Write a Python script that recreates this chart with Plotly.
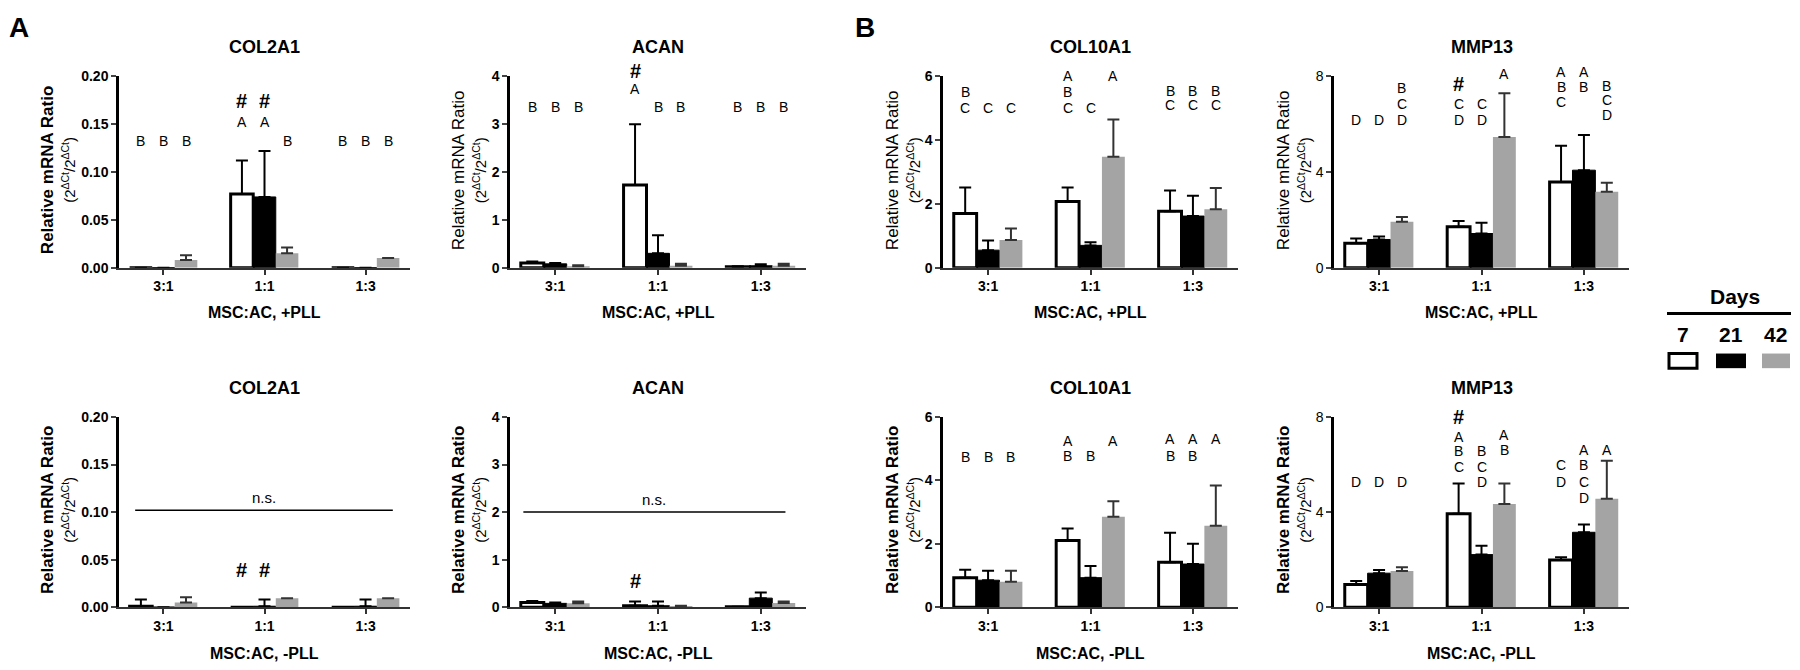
import plotly.graph_objects as go

categories = ["3:1", "1:1", "1:3"]
days = ["7", "21", "42"]

# ---- data: mean per day (rows = day 7, 21, 42; cols = 3:1, 1:1, 1:3), SD upward ----
col2a1_pos_mean = [[0.0, 0.077, 0.0], [0.0, 0.074, 0.0], [0.008, 0.015, 0.010]]
col2a1_pos_sd = [[0, 0.035, 0], [0, 0.048, 0], [0.005, 0.006, 0]]

acan_pos_mean = [[0.10, 1.73, 0.02], [0.08, 0.30, 0.04], [0.03, 0.04, 0.04]]
acan_pos_sd = [[0.03, 1.27, 0.01], [0.02, 0.38, 0.03], [0.02, 0.04, 0.04]]

col10a1_pos_mean = [[1.70, 2.08, 1.77], [0.55, 0.70, 1.62], [0.87, 3.48, 1.83]]
col10a1_pos_sd = [[0.82, 0.44, 0.65], [0.30, 0.10, 0.64], [0.36, 1.17, 0.67]]

mmp13_pos_mean = [[1.02, 1.71, 3.59], [1.18, 1.43, 4.08], [1.92, 5.47, 3.18]]
mmp13_pos_sd = [[0.20, 0.24, 1.51], [0.12, 0.45, 1.47], [0.20, 1.83, 0.37]]

col2a1_neg_mean = [[0.001, 0.0, 0.0], [0.0, 0.001, 0.001], [0.005, 0.0095, 0.0095]]
col2a1_neg_sd = [[0.007, 0, 0], [0, 0.007, 0.007], [0.0055, 0, 0]]

acan_neg_mean = [[0.10, 0.03, 0.01], [0.08, 0.03, 0.19], [0.08, 0.02, 0.09]]
acan_neg_sd = [[0.03, 0.09, 0], [0.02, 0.09, 0.12], [0.04, 0.01, 0.03]]

col10a1_neg_mean = [[0.93, 2.10, 1.42], [0.85, 0.93, 1.36], [0.80, 2.85, 2.57]]
col10a1_neg_sd = [[0.25, 0.38, 0.93], [0.30, 0.37, 0.64], [0.35, 0.49, 1.27]]

mmp13_neg_mean = [[0.95, 3.93, 1.98], [1.43, 2.21, 3.15], [1.52, 4.34, 4.56]]
mmp13_neg_sd = [[0.15, 1.27, 0.12], [0.13, 0.37, 0.33], [0.16, 0.86, 1.60]]

# significance letters: (category index, day index, label, y value)
col2a1_pos_letters = [(0, 0, "B", 0.132), (0, 1, "B", 0.132), (0, 2, "B", 0.132),
                      (1, 0, "A", 0.152), (1, 1, "A", 0.152), (1, 0, "#", 0.174), (1, 1, "#", 0.174),
                      (1, 2, "B", 0.132), (2, 0, "B", 0.132), (2, 1, "B", 0.132), (2, 2, "B", 0.132)]
acan_pos_letters = [(0, 0, "B", 3.36), (0, 1, "B", 3.36), (0, 2, "B", 3.36),
                    (1, 0, "A", 3.73), (1, 0, "#", 4.12), (1, 1, "B", 3.36), (1, 2, "B", 3.36),
                    (2, 0, "B", 3.36), (2, 1, "B", 3.36), (2, 2, "B", 3.36)]
col10a1_pos_letters = [(0, 0, "B", 5.5), (0, 0, "C", 5.02), (0, 1, "C", 5.02), (0, 2, "C", 5.02),
                       (1, 0, "A", 6.0), (1, 0, "B", 5.5), (1, 0, "C", 5.02), (1, 1, "C", 5.02), (1, 2, "A", 6.0),
                       (2, 0, "B", 5.55), (2, 0, "C", 5.1), (2, 1, "B", 5.55), (2, 1, "C", 5.1),
                       (2, 2, "B", 5.55), (2, 2, "C", 5.1)]
mmp13_pos_letters = [(0, 0, "D", 6.2), (0, 1, "D", 6.2), (0, 2, "B", 7.5), (0, 2, "C", 6.85), (0, 2, "D", 6.2),
                     (1, 0, "#", 7.67), (1, 0, "C", 6.85), (1, 0, "D", 6.2), (1, 1, "C", 6.85), (1, 1, "D", 6.2),
                     (1, 2, "A", 8.1),
                     (2, 0, "A", 8.2), (2, 0, "B", 7.55), (2, 0, "C", 6.95), (2, 1, "A", 8.2), (2, 1, "B", 7.55),
                     (2, 2, "B", 7.6), (2, 2, "C", 7.0), (2, 2, "D", 6.37)]
col2a1_neg_letters = [(1, 0, "#", 0.039), (1, 1, "#", 0.039)]
acan_neg_letters = [(1, 0, "#", 0.55)]
col10a1_neg_letters = [(0, 0, "B", 4.73), (0, 1, "B", 4.73), (0, 2, "B", 4.73),
                       (1, 0, "A", 5.23), (1, 0, "B", 4.77), (1, 1, "B", 4.77), (1, 2, "A", 5.23),
                       (2, 0, "A", 5.3), (2, 0, "B", 4.77), (2, 1, "A", 5.3), (2, 1, "B", 4.77), (2, 2, "A", 5.3)]
mmp13_neg_letters = [(0, 0, "D", 5.25), (0, 1, "D", 5.25), (0, 2, "D", 5.25),
                     (1, 0, "#", 8.0), (1, 0, "A", 7.17), (1, 0, "B", 6.56), (1, 0, "C", 5.9),
                     (1, 1, "B", 6.56), (1, 1, "C", 5.9), (1, 1, "D", 5.25),
                     (1, 2, "A", 7.25), (1, 2, "B", 6.62),
                     (2, 0, "C", 5.98), (2, 0, "D", 5.25),
                     (2, 1, "A", 6.62), (2, 1, "B", 5.98), (2, 1, "C", 5.25), (2, 1, "D", 4.6),
                     (2, 2, "A", 6.62)]

# n.s. bars: (x0, x1, y) in data units
col2a1_neg_ns = (-0.28, 2.27, 0.102)
acan_neg_ns = (-0.31, 2.24, 2.0)

titles = ["COL2A1", "ACAN", "COL10A1", "MMP13", "COL2A1", "ACAN", "COL10A1", "MMP13"]
xlabels = ["MSC:AC, +PLL"] * 4 + ["MSC:AC, -PLL"] * 4
ytickvals = [[0, 0.05, 0.10, 0.15, 0.20], [0, 1, 2, 3, 4], [0, 2, 4, 6], [0, 4, 8]]
yticktext = [["0.00", "0.05", "0.10", "0.15", "0.20"], ["0", "1", "2", "3", "4"], ["0", "2", "4", "6"], ["0", "4", "8"]]
ymax = [0.20, 4, 6, 8]

means = [col2a1_pos_mean, acan_pos_mean, col10a1_pos_mean, mmp13_pos_mean,
         col2a1_neg_mean, acan_neg_mean, col10a1_neg_mean, mmp13_neg_mean]
sds = [col2a1_pos_sd, acan_pos_sd, col10a1_pos_sd, mmp13_pos_sd,
       col2a1_neg_sd, acan_neg_sd, col10a1_neg_sd, mmp13_neg_sd]
letters = [col2a1_pos_letters, acan_pos_letters, col10a1_pos_letters, mmp13_pos_letters,
           col2a1_neg_letters, acan_neg_letters, col10a1_neg_letters, mmp13_neg_letters]
ns_lines = {4: col2a1_neg_ns, 5: acan_neg_ns}

# ---- layout geometry (window pixels; page body has an 8px margin) ----
OX, OY = 8, 8
W, H = 1784, 654
FONT = "Liberation Sans, Arial, sans-serif"
cols_px = [(119, 410), (510, 806), (943, 1238), (1334, 1629)]
rows_px = [(70, 266), (419, 614)]
ytitle_x = [58, 469, 903, 1294]
title_y = [40, 389]
xlabel_y = [312, 661]
ytitle_bold = [True, False, False, False, True, True, True, True]
ytick_bold = [True, True, True, False, True, True, True, False]

fills = ["white", "black", "#a4a4a4"]
lines = ["black", "black", "#a4a4a4"]
lwidths = [3, 1, 0]
errcols = ["black", "black", "#333333"]
bargap = 0.33
bw = (1 - bargap) / 3
xpos = [0, 1, 2]


def px(x):
    return (x - OX) / W


def py(y):
    return 1 - (y - OY) / H


fig = go.Figure()
layout = dict(width=W, height=H, margin=dict(l=0, r=0, t=0, b=0),
              plot_bgcolor="white", paper_bgcolor="white",
              barmode="group", bargap=bargap, bargroupgap=0, showlegend=False,
              font=dict(family=FONT, color="black"))
annotations = []
shapes = []

for p in range(8):
    r, c = divmod(p, 4)
    sfx = "" if p == 0 else str(p + 1)
    xa, ya = "x" + sfx, "y" + sfx
    for d in range(3):
        fig.add_trace(go.Bar(
            x=xpos, y=means[p][d], xaxis=xa, yaxis=ya, name=days[d],
            marker=dict(color=fills[d], line=dict(color=lines[d], width=lwidths[d])),
            error_y=dict(type="data", symmetric=False, array=sds[p][d], arrayminus=[0, 0, 0],
                         color=errcols[d], thickness=2, width=6),
            showlegend=False, hoverinfo="skip"))
    x0, x1 = cols_px[c]
    y0, y1 = rows_px[r]
    layout["xaxis" + sfx] = dict(domain=[px(x0), px(x1)], anchor=ya, range=[-0.44, 2.44],
                                 tickvals=xpos, ticktext=categories, showline=True, linecolor="#333333",
                                 linewidth=2, ticks="outside", ticklen=5, tickwidth=2, tickcolor="#333333",
                                 showgrid=False, zeroline=False, fixedrange=True,
                                 tickfont=dict(family=FONT, size=14, color="black", weight="bold"))
    layout["yaxis" + sfx] = dict(domain=[py(y1), py(y0)], anchor=xa, range=[0, ymax[c]],
                                 tickvals=ytickvals[c], ticktext=yticktext[c], showline=True,
                                 linecolor="black", linewidth=2.5, ticks="outside", ticklen=5, tickwidth=2,
                                 showgrid=False, zeroline=False, fixedrange=True,
                                 tickfont=dict(family=FONT, size=14, color="black",
                                               weight="bold" if ytick_bold[p] else "normal"))
    # title
    annotations.append(dict(text="<b>%s</b>" % titles[p], xref=xa, x=1, yref="paper", y=py(title_y[r]),
                            showarrow=False, xanchor="center", yanchor="middle",
                            font=dict(family=FONT, size=18, color="black")))
    # x label
    annotations.append(dict(text="<b>%s</b>" % xlabels[p], xref=xa, x=1, yref="paper", y=py(xlabel_y[r]),
                            showarrow=False, xanchor="center", yanchor="middle",
                            font=dict(family=FONT, size=16, color="black")))
    # y title
    line1 = "Relative mRNA Ratio"
    if ytitle_bold[p]:
        line1 = "<b>%s</b>" % line1
    ytxt = line1 + "<br><span style='font-size:15px'>(2<sup>ΔCt</sup>/2<sup>ΔCt</sup>)</span>"
    annotations.append(dict(text=ytxt, xref="paper", x=px(ytitle_x[c]), yref="paper",
                            y=py((y0 + y1) / 2 - 2), showarrow=False, textangle=-90,
                            xanchor="center", yanchor="middle",
                            font=dict(family=FONT, size=17, color="black")))
    # letters (placed in paper units so that they may sit above the axis top)
    ybot, yh = py(y1), (y1 - y0) / H
    for (ci, di, lab, yv) in letters[p]:
        if lab == "#":
            f = dict(family=FONT, size=20, color="black", weight="bold")
        else:
            f = dict(family=FONT, size=14, color="black")
        annotations.append(dict(text=lab, xref=xa, yref="paper", x=xpos[ci] + (di - 1) * bw,
                                y=ybot + yv / ymax[c] * yh,
                                showarrow=False, xanchor="center", yanchor="middle", font=f))
    # n.s. line
    if p in ns_lines:
        nx0, nx1, ny = ns_lines[p]
        shapes.append(dict(type="line", xref=xa, yref=ya, x0=nx0, x1=nx1, y0=ny, y1=ny,
                           line=dict(color="black", width=1.5)))
        annotations.append(dict(text="n.s.", xref=xa, yref=ya, x=(nx0 + nx1) / 2, y=ny,
                                showarrow=False, xanchor="center", yanchor="bottom", yshift=2,
                                font=dict(family=FONT, size=15, color="black")))

# panel letters
annotations.append(dict(text="<b>A</b>", xref="paper", yref="paper", x=px(19), y=py(20), showarrow=False,
                        xanchor="center", yanchor="middle", font=dict(family=FONT, size=28, color="black")))
annotations.append(dict(text="<b>B</b>", xref="paper", yref="paper", x=px(865), y=py(20), showarrow=False,
                        xanchor="center", yanchor="middle", font=dict(family=FONT, size=28, color="black")))

# legend (Days)
annotations.append(dict(text="<b>Days</b>", xref="paper", yref="paper", x=px(1735), y=py(296),
                        showarrow=False, xanchor="center", yanchor="middle",
                        font=dict(family=FONT, size=21, color="black")))
shapes.append(dict(type="line", xref="paper", yref="paper", x0=px(1667), x1=px(1791), y0=py(313), y1=py(313),
                   line=dict(color="black", width=3)))
leg_x = [(1669, 1697), (1716, 1746), (1762, 1790)]
leg_lab_x = [1683, 1731, 1775]
for d in range(3):
    annotations.append(dict(text="<b>%s</b>" % days[d], xref="paper", yref="paper", x=px(leg_lab_x[d]),
                            y=py(334), showarrow=False, xanchor="center", yanchor="middle",
                            font=dict(family=FONT, size=21, color="black")))
    a, b = leg_x[d]
    shapes.append(dict(type="rect", xref="paper", yref="paper", x0=px(a), x1=px(b), y0=py(369), y1=py(354),
                       fillcolor=fills[d], line=dict(color=lines[d], width=3 if d == 0 else 0)))

layout["annotations"] = annotations
layout["shapes"] = shapes
fig.update_layout(**layout)
fig.write_html("out.html")
